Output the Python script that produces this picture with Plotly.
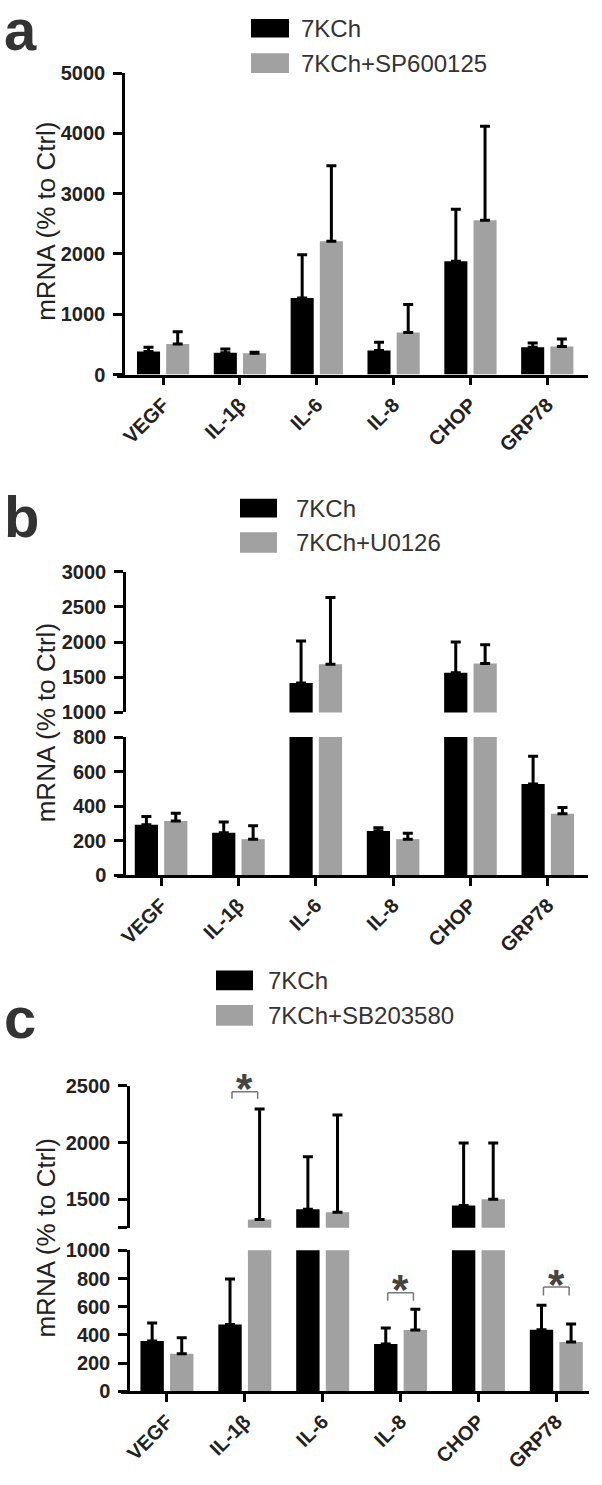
import plotly.graph_objects as go

W, H = 602, 1485

categories = ["VEGF", "IL-1β", "IL-6", "IL-8", "CHOP", "GRP78"]

# Panel a: 7KCh vs 7KCh+SP600125 (mean, SD shown upward)
a_names = ["7KCh", "7KCh+SP600125"]
a_7kch = [381, 360, 1269, 398, 1879, 452]
a_7kch_sd = [71, 65, 719, 136, 861, 71]
a_sp = [507, 354, 2211, 697, 2560, 463]
a_sp_sd = [201, 16, 1253, 463, 1558, 125]

# Panel b: 7KCh vs 7KCh+U0126
b_names = ["7KCh", "7KCh+U0126"]
b_7kch = [292, 245, 1419, 255, 1562, 528]
b_7kch_sd = [48, 63, 595, 19, 438, 161]
b_u0126 = [313, 208, 1686, 208, 1695, 355]
b_u0126_sd = [45, 77, 947, 34, 267, 37]

# Panel c: 7KCh vs 7KCh+SB203580
c_names = ["7KCh", "7KCh+SB203580"]
c_7kch = [357, 474, 1413, 335, 1446, 436]
c_7kch_sd = [127, 323, 463, 114, 550, 174]
c_sb = [266, 1322, 1387, 434, 1501, 349]
c_sb_sd = [113, 975, 855, 148, 495, 128]

# significance brackets in panel c
sig_cats = [1, 3, 5]
sig_top = [2448, 699, 740]
sig_bottom = [2387, 643, 680]
sig_star = [2552, 783, 820]
sig_upper = [True, False, False]

BLACK = "#000000"
GRAY = "#a1a1a1"
FONT = "Liberation Sans, Arial, sans-serif"
TXT = "#222222"

C_LOW = (0, 1000)
C_UP = (1250, 2500)


def px(p):
    return p / W


def py(p):
    return 1 - p / H


fig = go.Figure()


def add_pair(xa, ya, v1, e1, v2, e2):
    for vals, errs, col in ((v1, e1, BLACK), (v2, e2, GRAY)):
        fig.add_trace(go.Bar(
            x=categories, y=vals, xaxis=xa, yaxis=ya,
            marker=dict(color=col, line=dict(width=0)),
            error_y=dict(type="data", array=errs, arrayminus=[0] * len(errs),
                         symmetric=False, color="black", thickness=3, width=5),
            showlegend=False, hoverinfo="skip"))


add_pair("x", "y", a_7kch, a_7kch_sd, a_sp, a_sp_sd)
add_pair("x2", "y2", b_7kch, b_7kch_sd, b_u0126, b_u0126_sd)
add_pair("x2", "y3", b_7kch, b_7kch_sd, b_u0126, b_u0126_sd)
add_pair("x3", "y4", c_7kch, c_7kch_sd, c_sb, c_sb_sd)
add_pair("x3", "y5", c_7kch, c_7kch_sd, c_sb, c_sb_sd)

tickfont = dict(family=FONT, size=20, color=TXT, weight="bold")


def xax(d0, d1, r0, r1, anchor):
    return dict(domain=[px(d0), px(d1)], range=[r0, r1], anchor=anchor,
                type="category", showline=True, linewidth=2.5, linecolor="black",
                ticks="outside", ticklen=8, tickwidth=2.5, tickcolor="black",
                tickangle=-45, tickfont=tickfont, showgrid=False, zeroline=False,
                fixedrange=True)


def yax(top, bottom, r0, r1, pos, **kw):
    d = dict(domain=[py(bottom), py(top)], range=[r0, r1], anchor="free",
             position=px(pos), showline=True, linewidth=2.5, linecolor="black",
             ticks="outside", ticklen=9, tickwidth=2.5, tickcolor="black",
             ticklabelstandoff=4,
             tickfont=tickfont, showgrid=False, zeroline=False, fixedrange=True)
    d.update(kw)
    return d


fig.update_layout(
    width=W, height=H, margin=dict(l=0, r=0, t=0, b=0),
    paper_bgcolor="white", plot_bgcolor="white",
    barmode="group", bargap=0.24, bargroupgap=0.21,
    xaxis=xax(117, 588, -0.6, 5.53, "y"),
    yaxis=yax(63, 369, 0, 5000, 123, dtick=1000),
    xaxis2=xax(117, 588, -0.57, 5.52, "y2"),
    yaxis2=yax(737, 877, 0, 800, 124, dtick=200),
    yaxis3=yax(569, 712, 1000, 3000, 124, dtick=500),
    xaxis3=xax(121, 589, -0.59, 5.42, "y4"),
    yaxis4=yax(1258, 1401, C_LOW[0], C_LOW[1], 128, dtick=200),
    yaxis5=yax(1091, 1235, C_UP[0], C_UP[1], 128,
               tickvals=[1250, 1500, 2000, 2500], ticktext=["", "1500", "2000", "2500"]),
)

shapes = []
ann = []


# legends (drawn boxes + text)
def legend(x0, x1, ys, tx, names):
    for (y0, y1), name, col in zip(ys, names, (BLACK, GRAY)):
        shapes.append(dict(type="rect", xref="paper", yref="paper",
                           x0=px(x0), x1=px(x1), y0=py(y1), y1=py(y0),
                           fillcolor=col, line=dict(width=0)))
        ann.append(dict(xref="paper", yref="paper", x=px(tx), y=py((y0 + y1) / 2),
                        text=name, showarrow=False, xanchor="left", yanchor="middle",
                        font=dict(family=FONT, size=24, color="#333333")))


legend(251, 289, [(8, 27), (43, 63)], 299, a_names)
legend(240, 277, [(495, 514), (529, 550)], 294, b_names)
legend(216, 253, [(974, 994), (1009, 1030)], 266, c_names)

# panel letters
for letter, yc in (("a", 19), ("b", 513), ("c", 1022)):
    ann.append(dict(xref="paper", yref="paper", x=px(2), y=py(yc), text=letter,
                    showarrow=False, xanchor="left", yanchor="middle",
                    font=dict(family=FONT, size=58, color="#333333", weight="bold")))

# y-axis titles
for yc in (214, 723, 1246):
    ann.append(dict(xref="paper", yref="paper", x=px(46), y=py(yc),
                    text="mRNA (% to Ctrl)", textangle=-90, showarrow=False,
                    xanchor="center", yanchor="middle",
                    font=dict(family=FONT, size=26, color=TXT)))

# significance brackets and stars
for ci, yt, yb, ys, up in zip(sig_cats, sig_top, sig_bottom, sig_star, sig_upper):
    yref = "y5" if up else "y4"
    r0, r1 = C_UP if up else C_LOW
    x0, x1 = ci - 0.165, ci + 0.165
    lw = dict(color="#777777", width=1.5)
    shapes.append(dict(type="line", xref="x3", yref=yref, x0=x0, x1=x1, y0=yt, y1=yt, line=lw))
    shapes.append(dict(type="line", xref="x3", yref=yref, x0=x0, x1=x0, y0=yt, y1=yb, line=lw))
    shapes.append(dict(type="line", xref="x3", yref=yref, x0=x1, x1=x1, y0=yt, y1=yb, line=lw))
    ann.append(dict(xref="x3", yref=yref + " domain", x=categories[ci],
                    y=(ys - r0) / (r1 - r0), text="*", showarrow=False,
                    xanchor="center", yanchor="middle", yshift=-9,
                    font=dict(family=FONT, size=42, color="#444444", weight="bold")))

fig.update_layout(shapes=shapes, annotations=ann)

fig.write_html("out.html", config={"displayModeBar": False},
               post_script="document.body.style.margin='0';")
